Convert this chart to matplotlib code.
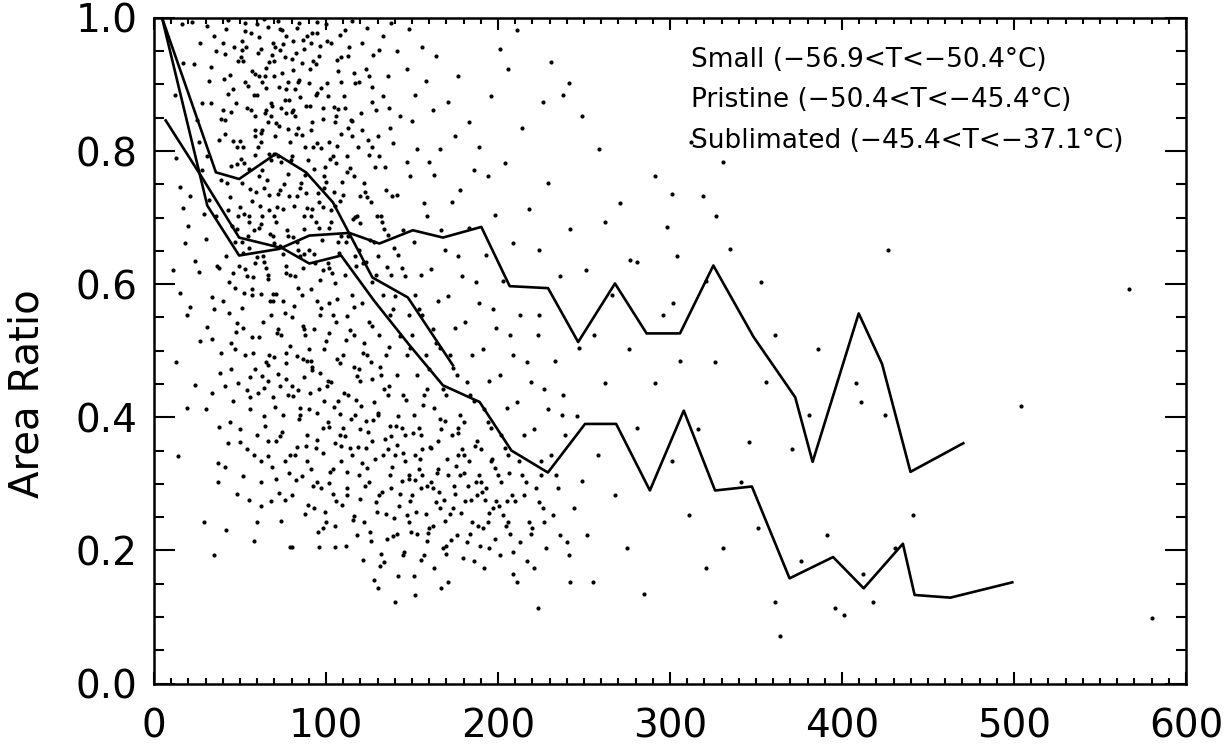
import matplotlib
matplotlib.use('Agg')
import matplotlib.pyplot as plt
from matplotlib.ticker import MultipleLocator

# binned mean curves
short_x = [4.7, 36, 49.5, 70.9, 88.4, 104, 127, 147.6, 173.8]
short_y = [1.0, 0.768, 0.758, 0.796, 0.768, 0.723, 0.61, 0.58, 0.478]

upper_x = [4.7, 31, 49.5, 72.8, 90.3, 113.6, 131, 150.5, 168, 190.3, 206.8, 229.1,
           246.6, 268, 286.4, 305.8, 325.2, 348.5, 372.8, 382.9, 409.7, 423.3, 439.8, 470.5]
upper_y = [1.0, 0.718, 0.643, 0.653, 0.673, 0.677, 0.661, 0.681, 0.67, 0.686, 0.597, 0.594,
           0.513, 0.601, 0.526, 0.526, 0.628, 0.521, 0.43, 0.333, 0.556, 0.48, 0.318, 0.361]

lower_x = [6.8, 28, 49.5, 74.7, 90.3, 108.8, 128, 148, 168, 189.3, 207.8, 229,
           250.6, 268.7, 288.3, 308, 326.2, 347.6, 369.5, 394.8, 412.6, 435.4, 442.2, 463, 499]
lower_y = [0.846, 0.76, 0.67, 0.654, 0.631, 0.643, 0.575, 0.51, 0.448, 0.423, 0.35, 0.317,
           0.39, 0.39, 0.29, 0.41, 0.29, 0.296, 0.158, 0.19, 0.143, 0.21, 0.133, 0.129, 0.152]

legend_lines = ["Small (\u221256.9<T<\u221250.4\u00b0C)",
                "Pristine (\u221250.4<T<\u221245.4\u00b0C)",
                "Sublimated (\u221245.4<T<\u221237.1\u00b0C)"]

# individual crystals (approximate positions)
crystals = [
    (14,0.342),(11,0.621),(17,0.715),(13,0.789),(19,0.553),(16,0.991),(12,0.884),(18,0.662),(15,0.746),(19,0.414),(13,0.483),(17,0.932),(15,0.587),
    (23,0.931),(28,0.872),(21,0.733),(27,0.514),(24,0.635),(29,0.242),(22,0.994),(26,0.618),(25,0.846),(20,0.687),(28,0.771),(24,0.448),(27,0.962),(21,0.566),(26,0.813),(29,0.705),
    (35,0.973),(32,0.905),(38,0.817),(31,0.792),(36,0.703),(34,0.581),(39,0.496),(30,0.412),(37,0.303),(33,0.927),(38,0.624),(31,0.535),(35,0.193),(39,0.848),(36,0.951),(32,0.727),(34,0.436),(37,0.331),(30,0.668),(33,0.872),(39,0.757),(35,0.562),(31,0.988),(38,0.385),
    (42,0.984),(46,0.893),(41,0.846),(48,0.781),(43,0.712),(47,0.664),(40,0.575),(45,0.511),(49,0.452),(44,0.393),(41,0.326),(48,0.284),(46,0.617),(43,0.886),(49,0.703),(42,0.231),(47,0.502),(44,0.914),(40,0.963),(45,0.778),(48,0.541),(41,0.447),(46,0.815),(43,0.362),(49,0.935),(42,0.643),(47,0.594),(44,0.731),(40,0.862),(45,0.473),(48,0.683),(43,0.997),(46,0.424),(41,0.825),
    (53,0.993),(51,0.952),(57,0.921),(54,0.864),(59,0.832),(52,0.806),(56,0.743),(50,0.716),(58,0.681),(55,0.655),(53,0.623),(57,0.592),(51,0.564),(59,0.473),(54,0.441),(56,0.413),(50,0.382),(58,0.344),(52,0.312),(55,0.276),(57,0.521),(53,0.904),(59,0.794),(51,0.752),(56,0.461),(54,0.612),(50,0.363),(58,0.214),(52,0.935),(55,0.702),(59,0.823),(51,0.664),(57,0.583),(53,0.981),(56,0.431),(50,0.815),(54,0.352),(58,0.884),(52,0.534),(55,0.773),(59,0.632),(53,0.494),(51,0.966),(57,0.725),
    (64,0.998),(61,0.972),(67,0.934),(63,0.903),(69,0.962),(60,0.884),(66,0.843),(62,0.814),(68,0.786),(65,0.862),(61,0.763),(67,0.734),(63,0.702),(69,0.673),(64,0.745),(60,0.641),(66,0.614),(62,0.585),(68,0.553),(65,0.624),(61,0.521),(67,0.493),(63,0.462),(69,0.431),(64,0.402),(60,0.373),(66,0.342),(62,0.303),(68,0.274),(65,0.483),(61,0.912),(67,0.795),(63,0.832),(69,0.574),(64,0.444),(60,0.243),(66,0.364),(62,0.953),(68,0.872),(65,0.894),(61,0.684),(67,0.712),(63,0.772),(69,0.585),(64,0.633),(60,0.991),(66,0.455),(62,0.334),(68,0.853),(65,0.925),
    (72,0.996),(75,0.961),(70,0.935),(78,0.904),(73,0.952),(76,0.877),(71,0.842),(79,0.814),(74,0.783),(77,0.857),(72,0.736),(70,0.703),(78,0.672),(75,0.645),(73,0.742),(79,0.614),(71,0.585),(76,0.556),(74,0.523),(77,0.628),(70,0.491),(72,0.465),(78,0.433),(75,0.404),(73,0.372),(79,0.343),(71,0.308),(76,0.276),(74,0.244),(77,0.481),(70,0.913),(72,0.793),(78,0.833),(75,0.574),(73,0.447),(79,0.205),(71,0.364),(76,0.942),(74,0.865),(77,0.893),(70,0.662),(72,0.532),(78,0.765),(75,0.713),(73,0.983),(79,0.507),(71,0.693),(76,0.334),
    (83,0.985),(87,0.954),(81,0.922),(85,0.881),(89,0.973),(82,0.852),(86,0.824),(80,0.793),(88,0.764),(84,0.903),(83,0.733),(87,0.702),(81,0.671),(85,0.642),(89,0.714),(82,0.612),(86,0.583),(80,0.551),(88,0.523),(84,0.594),(83,0.492),(87,0.461),(81,0.432),(85,0.403),(89,0.374),(82,0.343),(86,0.312),(80,0.283),(88,0.254),(84,0.441),(81,0.862),(85,0.744),(87,0.533),(89,0.334),(80,0.205),(86,0.932),(82,0.893),(84,0.834),(88,0.806),(83,0.664),(81,0.966),(87,0.645),(85,0.414),(89,0.484),(83,0.356),
    (92,0.978),(96,0.943),(90,0.902),(98,0.864),(94,0.931),(91,0.832),(97,0.804),(93,0.773),(99,0.745),(95,0.812),(92,0.713),(96,0.684),(90,0.652),(98,0.621),(94,0.694),(91,0.593),(97,0.564),(93,0.532),(99,0.503),(95,0.574),(92,0.471),(96,0.442),(90,0.413),(98,0.384),(94,0.354),(91,0.322),(97,0.293),(93,0.264),(99,0.425),(95,0.303),(92,0.843),(96,0.724),(90,0.502),(98,0.233),(94,0.884),(91,0.962),(97,0.894),(93,0.645),(99,0.763),(95,0.366),(92,0.475),(96,0.205),
    (103,0.962),(107,0.921),(101,0.883),(105,0.844),(109,0.941),(102,0.813),(106,0.782),(100,0.754),(108,0.725),(104,0.793),(103,0.693),(107,0.664),(101,0.632),(105,0.601),(109,0.673),(102,0.572),(106,0.543),(100,0.514),(108,0.482),(104,0.553),(103,0.453),(107,0.424),(101,0.393),(105,0.362),(109,0.334),(102,0.301),(106,0.274),(100,0.243),(108,0.405),(104,0.284),(103,0.712),(107,0.863),(101,0.454),(105,0.205),(109,0.904),(100,0.991),(106,0.852),(102,0.624),(108,0.374),(104,0.322),
    (113,0.943),(117,0.902),(111,0.864),(115,0.823),(119,0.904),(112,0.792),(116,0.763),(110,0.734),(118,0.703),(114,0.774),(113,0.672),(117,0.643),(111,0.614),(115,0.583),(119,0.652),(112,0.552),(116,0.524),(110,0.493),(118,0.462),(114,0.531),(113,0.434),(117,0.403),(111,0.372),(115,0.343),(119,0.314),(112,0.283),(116,0.252),(110,0.384),(118,0.223),(114,0.354),(113,0.835),(117,0.701),(111,0.982),(115,0.845),(119,0.473),(112,0.294),
    (123,0.923),(127,0.873),(121,0.832),(125,0.794),(129,0.862),(122,0.752),(126,0.723),(120,0.692),(128,0.664),(124,0.731),(123,0.634),(127,0.603),(121,0.572),(125,0.543),(129,0.614),(122,0.512),(126,0.483),(120,0.454),(128,0.423),(124,0.494),(123,0.394),(127,0.365),(121,0.332),(125,0.303),(129,0.272),(122,0.243),(126,0.214),(120,0.383),(128,0.155),(124,0.324),(121,0.962),(125,0.913),(127,0.806),(123,0.354),
    (133,0.883),(137,0.834),(131,0.793),(135,0.742),(139,0.812),(132,0.703),(136,0.674),(130,0.643),(138,0.614),(134,0.683),(133,0.584),(137,0.553),(131,0.524),(135,0.493),(139,0.562),(132,0.464),(136,0.433),(130,0.404),(138,0.372),(134,0.443),(133,0.343),(137,0.314),(131,0.283),(135,0.254),(139,0.222),(132,0.194),(136,0.352),(130,0.143),(138,0.293),(134,0.182),(131,0.952),(136,0.912),
    (143,0.852),(147,0.783),(141,0.734),(145,0.682),(149,0.762),(142,0.644),(146,0.613),(140,0.582),(148,0.553),(144,0.624),(143,0.522),(147,0.493),(141,0.464),(145,0.433),(149,0.504),(142,0.402),(146,0.373),(140,0.344),(148,0.313),(144,0.384),(143,0.284),(147,0.253),(141,0.224),(145,0.193),(149,0.274),(142,0.162),(146,0.334),(140,0.123),(148,0.243),(144,0.304),
    (153,0.803),(157,0.722),(151,0.663),(155,0.614),(159,0.702),(152,0.583),(156,0.554),(150,0.523),(158,0.494),(154,0.562),(153,0.463),(157,0.434),(151,0.403),(155,0.374),(159,0.443),(152,0.343),(156,0.314),(150,0.283),(158,0.254),(154,0.323),(153,0.224),(157,0.193),(151,0.162),(155,0.293),(159,0.214),(152,0.133),(156,0.353),(154,0.384),
    (163,0.764),(167,0.682),(161,0.623),(165,0.574),(169,0.652),(162,0.533),(166,0.504),(160,0.473),(168,0.443),(164,0.512),(163,0.414),(167,0.383),(161,0.354),(165,0.323),(169,0.394),(162,0.293),(166,0.264),(160,0.233),(168,0.204),(164,0.273),(163,0.174),(167,0.143),(161,0.303),(165,0.364),(169,0.244),(162,0.862),
    (173,0.723),(177,0.643),(171,0.582),(175,0.534),(179,0.612),(172,0.494),(176,0.463),(170,0.434),(178,0.403),(174,0.474),(173,0.373),(177,0.344),(171,0.313),(175,0.284),(179,0.353),(172,0.254),(176,0.223),(170,0.194),(178,0.314),(174,0.263),(171,0.153),(177,0.384),(175,0.823),
    (183,0.684),(187,0.603),(181,0.543),(185,0.494),(189,0.572),(182,0.453),(186,0.424),(180,0.393),(188,0.364),(184,0.433),(183,0.334),(187,0.303),(181,0.274),(185,0.243),(189,0.314),(182,0.213),(186,0.184),(180,0.343),(188,0.283),(184,0.224),(186,0.772),
    (193,0.644),(197,0.562),(191,0.503),(195,0.454),(199,0.534),(192,0.413),(196,0.384),(190,0.353),(198,0.324),(194,0.393),(193,0.294),(197,0.263),(191,0.234),(195,0.203),(199,0.274),(192,0.174),(196,0.334),(190,0.303),(194,0.243),
    (203,0.604),(207,0.523),(201,0.463),(205,0.414),(209,0.494),(202,0.374),(206,0.343),(200,0.314),(208,0.283),(204,0.354),(203,0.253),(207,0.224),(201,0.193),(205,0.274),(209,0.164),(202,0.303),(206,0.243),
    (213,0.554),(217,0.483),(211,0.423),(215,0.374),(219,0.453),(212,0.334),(216,0.303),(210,0.274),(218,0.243),(214,0.314),(213,0.213),(217,0.184),(211,0.153),(215,0.283),(219,0.224),
    (223,0.524),(227,0.443),(221,0.383),(225,0.334),(229,0.413),(222,0.293),(226,0.263),(220,0.234),(228,0.203),(224,0.273),(221,0.173),(225,0.314),(223,0.114),(227,0.243),
    (233,0.484),(237,0.403),(231,0.343),(235,0.294),(239,0.373),(232,0.253),(236,0.223),(241,0.193),(244,0.264),(234,0.314),(238,0.434),(242,0.153),(240,0.213),
    # denser core, upper cloud
    (46.5,0.957),(40.5,0.908),(44.5,0.858),(48.5,0.806),(42.5,0.752),(49.5,0.627),(45.5,0.688),(41.5,0.946),(47.5,0.872),(43.5,0.603),
    (56.5,0.977),(50.5,0.941),(54.5,0.897),(58.5,0.853),(52.5,0.782),(59.5,0.738),(55.5,0.694),(51.5,0.647),(57.5,0.611),(53.5,0.956),(56.5,0.862),(50.5,0.788),(54.5,0.672),(58.5,0.916),(52.5,0.706),
    (66.5,0.987),(60.5,0.947),(64.5,0.913),(68.5,0.868),(62.5,0.827),(69.5,0.796),(65.5,0.757),(61.5,0.718),(67.5,0.676),(63.5,0.643),(66.5,0.608),(60.5,0.806),(64.5,0.857),(68.5,0.944),(62.5,0.691),
    (76.5,0.973),(70.5,0.957),(74.5,0.918),(78.5,0.877),(72.5,0.838),(79.5,0.786),(75.5,0.751),(71.5,0.716),(77.5,0.682),(73.5,0.658),(76.5,0.617),(70.5,0.823),(74.5,0.982),(78.5,0.733),(72.5,0.896),
    (86.5,0.967),(80.5,0.938),(84.5,0.907),(88.5,0.868),(82.5,0.826),(89.5,0.787),(85.5,0.752),(81.5,0.717),(87.5,0.683),(83.5,0.652),(86.5,0.624),(80.5,0.858),(84.5,0.992),(88.5,0.737),(82.5,0.948),
    (96.5,0.958),(90.5,0.923),(94.5,0.887),(98.5,0.848),(92.5,0.806),(99.5,0.776),(95.5,0.737),(91.5,0.703),(97.5,0.667),(93.5,0.632),(96.5,0.606),(90.5,0.867),(94.5,0.977),(98.5,0.716),(92.5,0.936),
    (106.5,0.937),(100.5,0.902),(104.5,0.866),(108.5,0.826),(102.5,0.788),(109.5,0.753),(105.5,0.718),(101.5,0.684),(107.5,0.647),(103.5,0.617),(106.5,0.808),(100.5,0.966),(104.5,0.738),
    (116.5,0.918),(110.5,0.883),(114.5,0.846),(118.5,0.806),(112.5,0.768),(119.5,0.733),(115.5,0.698),(111.5,0.663),(117.5,0.627),(113.5,0.957),
    (126.5,0.896),(120.5,0.857),(124.5,0.817),(128.5,0.776),(122.5,0.738),(129.5,0.702),(125.5,0.667),(121.5,0.632),(127.5,0.944),
    (136.5,0.864),(130.5,0.823),(134.5,0.776),(138.5,0.733),(132.5,0.694),(139.5,0.655),(135.5,0.626),
    # denser core, lower cloud
    (66.5,0.478),(60.5,0.436),(64.5,0.387),(68.5,0.326),(62.5,0.267),
    (76.5,0.457),(70.5,0.416),(74.5,0.378),(78.5,0.317),(72.5,0.286),
    (86.5,0.487),(80.5,0.447),(84.5,0.398),(88.5,0.357),(82.5,0.306),(89.5,0.268),
    (96.5,0.467),(90.5,0.436),(94.5,0.406),(98.5,0.347),(92.5,0.296),(99.5,0.257),(95.5,0.227),
    (106.5,0.488),(100.5,0.447),(104.5,0.416),(108.5,0.357),(102.5,0.318),(109.5,0.268),(105.5,0.237),(101.5,0.386),
    (116.5,0.476),(110.5,0.437),(114.5,0.398),(118.5,0.356),(112.5,0.318),(119.5,0.277),(115.5,0.246),(111.5,0.207),(117.5,0.426),
    (126.5,0.457),(120.5,0.417),(124.5,0.378),(128.5,0.337),(122.5,0.296),(129.5,0.258),(125.5,0.227),(121.5,0.186),(127.5,0.396),
    (136.5,0.447),(130.5,0.406),(134.5,0.368),(138.5,0.326),(132.5,0.287),(139.5,0.248),(135.5,0.217),(131.5,0.176),(137.5,0.387),
    (146.5,0.426),(140.5,0.387),(144.5,0.347),(148.5,0.307),(142.5,0.266),(149.5,0.228),(145.5,0.197),(141.5,0.358),
    (156.5,0.418),(150.5,0.376),(154.5,0.337),(158.5,0.296),(152.5,0.257),(159.5,0.226),(155.5,0.186),(151.5,0.306),
    (166.5,0.397),(160.5,0.356),(164.5,0.317),(168.5,0.276),(162.5,0.236),(169.5,0.207),(165.5,0.287),
    (176.5,0.376),(170.5,0.337),(174.5,0.296),(178.5,0.256),(172.5,0.216),(179.5,0.188),(175.5,0.327),
    (186.5,0.357),(180.5,0.316),(184.5,0.276),(188.5,0.237),(182.5,0.297),(189.5,0.206),
    (196.5,0.337),(190.5,0.287),(194.5,0.256),(198.5,0.217),(192.5,0.276),
    (206.5,0.316),(200.5,0.266),(204.5,0.236),(208.5,0.197),
    # middle band
    (36.5,0.627),(33.5,0.517),(38.5,0.466),(43.5,0.557),(47.5,0.528),(52.5,0.587),(57.5,0.497),(63.5,0.543),(67.5,0.574),(71.5,0.527),(76.5,0.497),(81.5,0.567),(86.5,0.537),(91.5,0.484),(96.5,0.553),(101.5,0.527),(106.5,0.577),(111.5,0.516),(116.5,0.566),(121.5,0.497),(126.5,0.537),(131.5,0.476),(136.5,0.506),
    # upper right of the main cloud
    (124,0.985),(133,0.973),(141,0.951),(147,0.923),(152,0.884),(158,0.905),(164,0.943),(171,0.874),(177,0.912),(183,0.843),(189,0.806),(194,0.763),(198,0.704),(204,0.782),(209,0.662),(214,0.834),(218,0.713),(224,0.652),(229,0.752),(236,0.612),(242,0.683),(148,0.983),(156,0.957),(166,0.803),(178,0.742),(196,0.882),(206,0.924),(226,0.873),(138,0.992),(115,0.996),(95,0.994),(108,0.975),(150,0.845),(160,0.783),
    # sparse large crystals
    (246,0.402),(249,0.304),(252,0.223),(258,0.343),(247,0.504),(255,0.152),(262,0.452),(268,0.283),(251,0.622),(275,0.204),(281,0.384),(266,0.583),(291,0.452),(301,0.334),(311,0.253),(321,0.173),(285,0.134),(296,0.553),(306,0.484),(316,0.383),(331,0.204),(341,0.303),(351,0.233),(361,0.122),(356,0.453),(371,0.353),(376,0.184),(391,0.223),(381,0.404),(396,0.114),(401,0.103),(408,0.452),(412,0.164),(418,0.122),(425,0.404),(431,0.203),(441,0.253),(504,0.417),(580,0.098),(567,0.593),(364,0.072),(427,0.652),(353,0.603),(291,0.763),(301,0.736),(319,0.733),(327,0.703),(298,0.686),(304,0.643),(277,0.637),(321,0.604),(335,0.653),(331,0.784),(271,0.722),(259,0.803),(249,0.853),(241,0.902),(231,0.934),(211,0.982),(201,0.953),(256,0.523),(276,0.503),(302,0.572),(326,0.483),(346,0.363),(361,0.523),(386,0.503),(411,0.423),(281,0.634),(262,0.694),(224,0.553),(312,0.813),(238,0.884),
]

plt.rcParams['font.family'] = 'DejaVu Sans'

fig = plt.figure(figsize=(12.26, 7.47), dpi=100)
ax = fig.add_axes([0.1256, 0.085, 0.8418, 0.891])

cx = [p[0] for p in crystals]
cy = [p[1] for p in crystals]
ax.plot(cx, cy, 'o', color='black', ms=3.0, mew=0, zorder=2)

for xs, ys in [(short_x, short_y), (upper_x, upper_y), (lower_x, lower_y)]:
    ax.plot(xs, ys, color='black', lw=1.9, zorder=3)

for i, txt in enumerate(legend_lines):
    ax.text(312, 0.937 - i * 0.061, txt, fontsize=19, va='center', ha='left')

ax.set_xlim(0, 600)
ax.set_ylim(0, 1.0)
ax.xaxis.set_major_locator(MultipleLocator(100))
ax.xaxis.set_minor_locator(MultipleLocator(10))
ax.set_yticks([0, 0.2, 0.4, 0.6, 0.8, 1.0])
ax.set_yticklabels(['0.0', '0.2', '0.4', '0.6', '0.8', '1.0'])
ax.yaxis.set_minor_locator(MultipleLocator(0.05))

ax.tick_params(which='both', direction='in', top=True, right=True, width=1.5, color='black')
ax.tick_params(axis='x', which='major', length=8.5, pad=17, labelsize=28)
ax.tick_params(axis='x', which='minor', length=4.5)
ax.tick_params(axis='y', which='major', length=15, pad=12, labelsize=28)
ax.tick_params(axis='y', which='minor', length=7.5)

for sp in ax.spines.values():
    sp.set_linewidth(1.8)

ax.set_ylabel('Area Ratio', fontsize=29)
ax.yaxis.set_label_coords(-0.103, 0.436)

fig.savefig('out.png', dpi=100)
